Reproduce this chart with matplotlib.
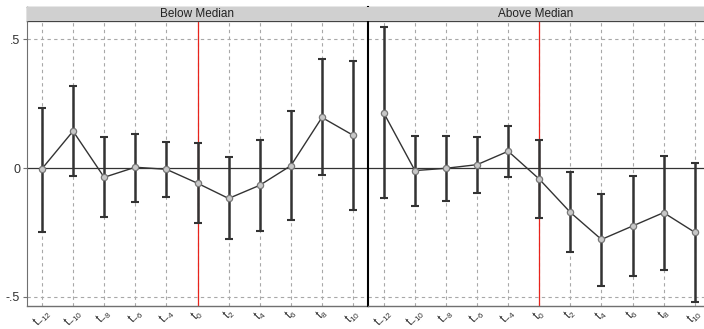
import matplotlib
matplotlib.use("Agg")
import matplotlib.pyplot as plt
from matplotlib.patches import Rectangle
import numpy as np

plt.rcParams['font.family'] = ['Liberation Sans', 'DejaVu Sans']
plt.rcParams['mathtext.fontset'] = 'custom'
plt.rcParams['mathtext.rm'] = 'Liberation Sans'
plt.rcParams['mathtext.it'] = 'Liberation Sans'

labels = [r"$\mathregular{t_{-12}}$", r"$\mathregular{t_{-10}}$", r"$\mathregular{t_{-8}}$",
          r"$\mathregular{t_{-6}}$", r"$\mathregular{t_{-4}}$", r"$\mathregular{t_{0}}$",
          r"$\mathregular{t_{2}}$", r"$\mathregular{t_{4}}$", r"$\mathregular{t_{6}}$",
          r"$\mathregular{t_{8}}$", r"$\mathregular{t_{10}}$"]
panel_titles = ["Below Median", "Above Median"]

below_est = [-0.003, 0.143, -0.036, 0.003, -0.005, -0.059, -0.118, -0.067, 0.009, 0.196, 0.127]
below_hi = [0.234, 0.318, 0.120, 0.133, 0.102, 0.098, 0.044, 0.107, 0.220, 0.421, 0.416]
below_lo = [-0.247, -0.031, -0.191, -0.131, -0.114, -0.212, -0.276, -0.244, -0.202, -0.027, -0.164]

above_est = [0.213, -0.010, -0.001, 0.013, 0.065, -0.043, -0.172, -0.277, -0.225, -0.173, -0.249]
above_hi = [0.545, 0.124, 0.124, 0.119, 0.164, 0.110, -0.017, -0.099, -0.030, 0.045, 0.019]
above_lo = [-0.116, -0.149, -0.127, -0.097, -0.034, -0.194, -0.324, -0.457, -0.419, -0.394, -0.519]

W, H = 704, 329
fig = plt.figure(figsize=(W / 100, H / 100), dpi=100)

x_left, x_mid, x_right = 27, 368, 704
y_top, y_bot, strip_top = 21, 306, 7

def fx(px):
    return px / W

def fy(py):
    return 1 - py / H

ax1 = fig.add_axes([fx(x_left), fy(y_bot), fx(x_mid - x_left), fy(y_top) - fy(y_bot)])
ax2 = fig.add_axes([fx(x_mid), fy(y_bot), fx(x_right - x_mid), fy(y_top) - fy(y_bot)])

data = [(below_est, below_lo, below_hi), (above_est, above_lo, above_hi)]
xlims = [(-0.48, 10.48), (-0.51, 10.3)]
x = np.arange(len(labels))

for i, (ax, (est, lo, hi)) in enumerate(zip([ax1, ax2], data)):
    est = np.array(est); lo = np.array(lo); hi = np.array(hi)
    ax.set_xlim(*xlims[i])
    ax.set_ylim(-0.535, 0.570)
    for xi in x:
        ax.axvline(xi, color='#a8a8a8', lw=0.8, ls=(0, (3, 3)), zorder=0)
    for yv in [0.5, -0.5]:
        ax.axhline(yv, color='#a8a8a8', lw=0.8, ls=(0, (3, 3)), zorder=0)
    ax.axhline(0, color='#333333', lw=0.9, zorder=1)
    ax.axvline(5, color='#e8241c', lw=0.9, zorder=1)
    ax.errorbar(x, est, yerr=[est - lo, hi - est], fmt='none', ecolor='#333333',
                elinewidth=1.8, capsize=3, capthick=1.5, zorder=2)
    ax.plot(x, est, color='#333333', lw=1.0, marker='o', markersize=4.5,
            markerfacecolor='#c8c8c8', markeredgecolor='#777777', markeredgewidth=0.9, zorder=3)
    ax.set_xticks(x)
    ax.set_xticklabels(labels, rotation=45, fontsize=8.5, ha='center', va='top')
    ax.tick_params(axis='x', length=0, pad=0, colors='#333333')
    for s in ['top', 'right']:
        ax.spines[s].set_visible(False)
    ax.spines['bottom'].set_color('#707070')
    ax.spines['bottom'].set_linewidth(1.0)

ax1.spines['left'].set_color('#707070')
ax1.set_yticks([-0.5, 0, 0.5])
ax1.set_yticklabels(['-.5', '0', '.5'], fontsize=9)
ax1.tick_params(axis='y', length=3, color='#707070', pad=2, colors='#333333')
ax2.spines['left'].set_color('black')
ax2.spines['left'].set_linewidth(1.5)
ax2.set_yticks([])

# strip headers
for (xa, xb), title in zip([(x_left, x_mid), (x_mid, x_right)], panel_titles):
    fig.patches.append(Rectangle((fx(xa), fy(y_top)), fx(xb - xa), fy(strip_top) - fy(y_top),
                                 transform=fig.transFigure, facecolor='#d0d0d0',
                                 edgecolor='none', zorder=5))
    fig.text(fx((xa + xb) / 2), fy((strip_top + y_top) / 2), title, ha='center', va='center',
             fontsize=8.5, color='#222222', zorder=6)
fig.add_artist(plt.Line2D([fx(x_left), fx(x_right)], [fy(strip_top), fy(strip_top)],
                          transform=fig.transFigure, color='#444444', lw=0.9))
fig.add_artist(plt.Line2D([fx(x_left), fx(x_right)], [fy(y_top), fy(y_top)],
                          transform=fig.transFigure, color='#444444', lw=0.9))
for xv, c in [(x_left, '#707070'), (x_mid, 'black')]:
    fig.add_artist(plt.Line2D([fx(xv), fx(xv)], [fy(strip_top), fy(y_top)],
                              transform=fig.transFigure, color=c, lw=1.0 if c != 'black' else 1.5))

fig.savefig("out.png", dpi=100)
